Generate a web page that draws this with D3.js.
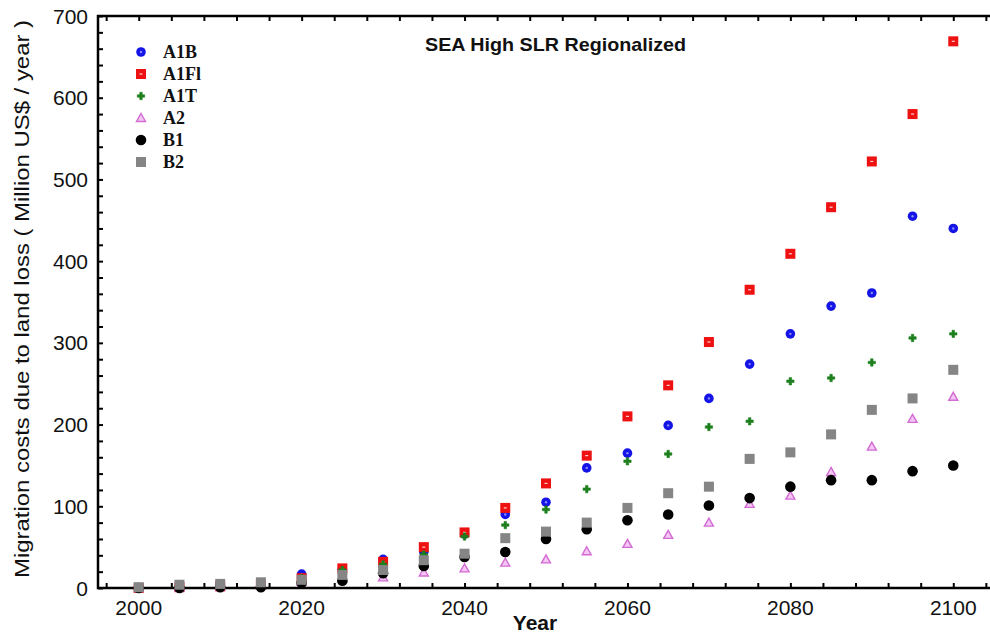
<!DOCTYPE html>
<html>
<head>
<meta charset="utf-8">
<script src="https://cdn.jsdelivr.net/npm/d3@7"></script>
<style>
  body { margin: 0; background: #fff; }
  text { font-family: "Liberation Sans", Arial, sans-serif; fill: #111; }
  .legend-label { font-family: "Liberation Serif", "Times New Roman", serif; font-weight: bold; font-size: 18px; }
</style>
</head>
<body>
<div id="chart"></div>
<script>
// years on the x axis
let years = [2000, 2005, 2010, 2015, 2020, 2025, 2030, 2035, 2040, 2045, 2050,
             2055, 2060, 2065, 2070, 2075, 2080, 2085, 2090, 2095, 2100];

// Migration costs (Million US$ / year)
let a1b  = [0, 1, 2, 4, 17, 23, 35, 44, 66, 90, 105, 147, 165, 199, 232, 274, 311, 345, 361, 455, 440];
let a1fi = [0, 1, 2, 4, 12, 24, 32, 50, 68, 98, 128, 162, 210, 248, 301, 365, 409, 466, 522, 580, 669];
let a1t  = [0, 1, 2, 4, 12, 22, 29, 41, 63, 77, 96, 121, 155, 164, 197, 204, 253, 257, 276, 306, 311];
let a2   = [0, 1, 2, 3, 8, 12, 13, 19, 24, 31, 35, 45, 54, 65, 80, 103, 113, 142, 173, 207, 234];
let b1   = [0, 0, 1, 1, 6, 9, 18, 27, 38, 44, 60, 72, 83, 90, 101, 110, 124, 132, 132, 143, 150];
let b2   = [1, 4, 5, 7, 10, 16, 22, 34, 42, 61, 69, 80, 98, 116, 124, 158, 166, 188, 218, 232, 267];

let seriesNames = ["A1B", "A1FI", "A1T", "A2", "B1", "B2"];
let legendLabels = ["A1B", "A1Fl", "A1T", "A2", "B1", "B2"];

let xTickLabels = [2000, 2020, 2040, 2060, 2080, 2100];
let yTickLabels = [0, 100, 200, 300, 400, 500, 600, 700];

function drawChart(width, height, selector) {

	let series = [
		{ name: "A1B",  values: a1b,  shape: "circle",   color: "#1414e6" },
		{ name: "A1FI", values: a1fi, shape: "square",   color: "#ee1111" },
		{ name: "A1T",  values: a1t,  shape: "plus",     color: "#1d7f1d" },
		{ name: "A2",   values: a2,   shape: "triangle", color: "#d36bd3" },
		{ name: "B1",   values: b1,   shape: "dot",      color: "#000000" },
		{ name: "B2",   values: b2,   shape: "graysq",   color: "#858585" }
	];

	let margin = { top: 16, left: 98, right: -4, bottom: 47 };
	let chartWidth = width - margin.left - margin.right;
	let chartHeight = height - margin.top - margin.bottom;

	// scales
	let xPositionScale = d3.scaleLinear()
		.domain([1995, 2105])
		.range([0, chartWidth]);

	let yPositionScale = d3.scaleLinear()
		.domain([0, 700])
		.range([chartHeight, 0]);

	let svg = d3.select(selector)
		.append("svg")
		.attr("width", width)
		.attr("height", height);

	let chart = svg.append("g")
		.attr("transform", "translate(" + margin.left + "," + margin.top + ")");

	// minor ticks every 4 years on x, every 20 on y, all pointing in
	let xTicks = d3.range(1996, 2105, 4);
	let yTicks = d3.range(0, 701, 20);

	let bottomAxis = d3.axisBottom(xPositionScale)
		.tickValues(xTicks)
		.tickSize(-5)
		.tickFormat("");
	chart.append("g")
		.attr("class", "axis")
		.attr("transform", "translate(0," + chartHeight + ")")
		.call(bottomAxis);

	let topAxis = d3.axisTop(xPositionScale)
		.tickValues(xTicks)
		.tickSize(-5)
		.tickFormat("");
	chart.append("g")
		.attr("class", "axis")
		.call(topAxis);

	let leftAxis = d3.axisLeft(yPositionScale)
		.tickValues(yTicks)
		.tickSize(-5)
		.tickFormat("");
	chart.append("g")
		.attr("class", "axis")
		.call(leftAxis);

	chart.selectAll(".axis .domain").remove();
	chart.selectAll(".axis .tick line")
		.attr("stroke", "#000")
		.attr("stroke-width", 2);

	// frame
	chart.append("rect")
		.attr("x", 0)
		.attr("y", 0)
		.attr("width", chartWidth)
		.attr("height", chartHeight)
		.attr("fill", "none")
		.attr("stroke", "#000")
		.attr("stroke-width", 2.5);

	// tick labels
	chart.selectAll(".x-label")
		.data(xTickLabels)
		.enter().append("text")
		.attr("class", "x-label")
		.attr("x", d => xPositionScale(d))
		.attr("y", chartHeight + 27)
		.attr("text-anchor", "middle")
		.attr("font-size", 21)
		.text(d => d);

	chart.selectAll(".y-label")
		.data(yTickLabels)
		.enter().append("text")
		.attr("class", "y-label")
		.attr("x", -10)
		.attr("y", d => yPositionScale(d))
		.attr("dy", "0.36em")
		.attr("text-anchor", "end")
		.attr("font-size", 21)
		.text(d => d);

	// axis titles
	svg.append("text")
		.attr("x", 535)
		.attr("y", 630)
		.attr("text-anchor", "middle")
		.attr("font-size", 21)
		.attr("font-weight", "bold")
		.text("Year");

	svg.append("text")
		.attr("transform", "translate(29,299) rotate(-90)")
		.attr("text-anchor", "middle")
		.attr("font-size", 21)
		.attr("textLength", 558)
		.attr("lengthAdjust", "spacingAndGlyphs")
		.text("Migration costs due to land loss ( Million US$ / year )");

	svg.append("text")
		.attr("x", 425)
		.attr("y", 51)
		.attr("font-size", 19)
		.attr("font-weight", "bold")
		.attr("textLength", 261)
		.attr("lengthAdjust", "spacingAndGlyphs")
		.text("SEA High SLR Regionalized");

	// marker drawing
	function drawMarker(g, shape, color) {
		if (shape === "circle") {
			g.append("circle").attr("r", 4.8).attr("fill", color);
			g.append("circle").attr("r", 1.2).attr("fill", "#8a8aff");
		} else if (shape === "square") {
			g.append("rect").attr("x", -5).attr("y", -5).attr("width", 10).attr("height", 10).attr("fill", color);
			g.append("rect").attr("x", -1.5).attr("y", -0.6).attr("width", 3).attr("height", 1.2).attr("fill", "#ffd0d0");
		} else if (shape === "plus") {
			g.append("path")
				.attr("d", d3.symbol().type(d3.symbolCross).size(30)())
				.attr("fill", color)
				.attr("stroke", color)
				.attr("stroke-width", 0.6);
		} else if (shape === "triangle") {
			g.append("path")
				.attr("d", "M0,-4.5L4.5,3.5L-4.5,3.5Z")
				.attr("fill", "#f3c6f3")
				.attr("stroke", color)
				.attr("stroke-width", 1.4);
		} else if (shape === "dot") {
			g.append("circle").attr("r", 5.3).attr("fill", color);
		} else if (shape === "graysq") {
			g.append("rect").attr("x", -5).attr("y", -5).attr("width", 10).attr("height", 10).attr("fill", color);
		}
	}

	// points
	series.forEach(function(s) {
		let group = chart.append("g").attr("class", "series-" + s.name);
		s.values.forEach(function(v, i) {
			let g = group.append("g")
				.attr("transform", "translate(" + xPositionScale(years[i]) + "," + yPositionScale(v) + ")");
			drawMarker(g, s.shape, s.color);
		});
	});

	// legend
	let legend = svg.append("g").attr("transform", "translate(141,52)");
	series.forEach(function(s, i) {
		let row = legend.append("g").attr("transform", "translate(0," + (i * 22) + ")");
		drawMarker(row.append("g"), s.shape, s.color);
		row.append("text")
			.attr("class", "legend-label")
			.attr("x", 22)
			.attr("y", 6)
			.text(legendLabels[i]);
	});
}

drawChart(990, 635, "#chart");
</script>
</body>
</html>
